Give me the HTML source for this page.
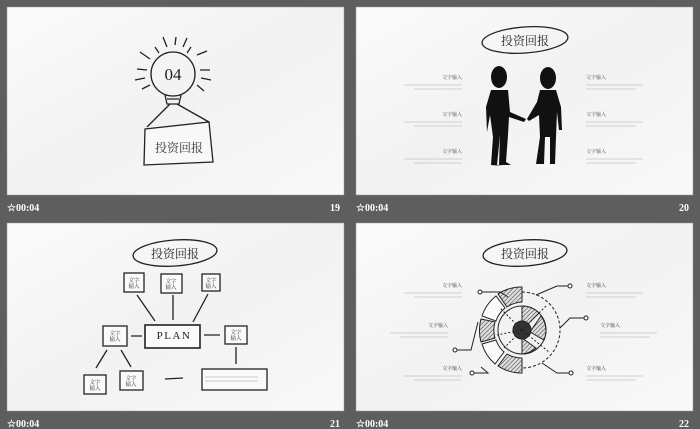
<!DOCTYPE html>
<html><head><meta charset="utf-8"><style>
html,body{margin:0;padding:0;background:#5e5e5e;}
svg{display:block}
text{font-family:"Liberation Serif","Noto Serif CJK SC",serif;}
.w{fill:#fff;font-family:"Liberation Serif",serif;font-weight:bold;font-size:10px}
</style></head><body>
<svg width="700" height="429" viewBox="0 0 700 429" xmlns="http://www.w3.org/2000/svg">
<defs>
<linearGradient id="pg" x1="0" y1="0" x2="1" y2="1">
<stop offset="0" stop-color="#fbfbfb"/><stop offset="0.5" stop-color="#f2f2f2"/><stop offset="1" stop-color="#f9f9f9"/></linearGradient>
<pattern id="h" width="3" height="3" patternUnits="userSpaceOnUse" patternTransform="rotate(45)"><rect width="3" height="3" fill="#ddd"/><line x1="0" y1="0" x2="0" y2="3" stroke="#333" stroke-width="1"/></pattern>
</defs>
<rect width="700" height="429" fill="#5e5e5e"/>
<rect x="7" y="7" width="337" height="188" fill="url(#pg)" stroke="#999" stroke-width="0.5"/>
<rect x="356" y="7" width="337" height="188" fill="url(#pg)" stroke="#999" stroke-width="0.5"/>
<rect x="7" y="223" width="337" height="188" fill="url(#pg)" stroke="#999" stroke-width="0.5"/>
<rect x="356" y="223" width="337" height="188" fill="url(#pg)" stroke="#999" stroke-width="0.5"/>

<text x="7" y="211" class="w">☆00:04</text><text x="340" y="211" class="w" text-anchor="end">19</text>
<text x="356" y="211" class="w">☆00:04</text><text x="689" y="211" class="w" text-anchor="end">20</text>
<text x="7" y="427" class="w">☆00:04</text><text x="340" y="427" class="w" text-anchor="end">21</text>
<text x="356" y="427" class="w">☆00:04</text><text x="689" y="427" class="w" text-anchor="end">22</text>

<g transform="translate(7,7)" stroke="#222" fill="none" stroke-width="1.3">
<circle cx="166" cy="67" r="22"/>
<path d="M158 88 L160 97 L172 97 L174 88 M160 92 L172 92"/>
<path d="M156 30 L160 40 M169 30 L168 38 M180 31 L176 40 M148 40 L152 46 M184 40 L180 46 M133 45 L143 52 M190 48 L200 44 M130 62 L140 63 M193 63 L203 63 M128 73 L138 71 M194 71 L204 73 M135 82 L143 78 M190 78 L197 84"/>
<path d="M163 97 L140 120 M170 97 L202 115"/>
<path d="M138 122 L202 115 L206 155 L137 158 Z" fill="#f8f8f8"/>
</g>
<text x="173" y="80" font-size="17" text-anchor="middle" fill="#222">04</text>
<text x="179" y="152" font-size="12" text-anchor="middle" fill="#333">投资回报</text>

<g transform="translate(356,7)">
<ellipse cx="169" cy="33" rx="43" ry="13" fill="none" stroke="#222" stroke-width="1.3" transform="rotate(-4 169 33)"/>
<text x="169" y="38" font-size="12" text-anchor="middle" fill="#222">投资回报</text>
<g fill="#111">
<ellipse cx="143" cy="70" rx="8" ry="11"/>
<path d="M135 83 L152 83 L154 105 L170 112 L168 115 L153 110 L152 128 L150 155 L155 158 L143 158 L144 128 L141 158 L147 159 L135 158 L137 130 L134 108 L131 125 L130 100 Z"/>
<ellipse cx="192" cy="71" rx="8" ry="11"/>
<path d="M184 83 L200 83 L205 100 L206 123 L203 123 L201 105 L200 130 L199 157 L194 157 L194 130 L189 130 L188 157 L180 157 L184 130 L183 108 L173 114 L171 112 L181 95 Z"/>
</g>
<g fill="#555">
<text x="106" y="72" text-anchor="end" font-size="5">文字输入</text>
<text x="106" y="109" text-anchor="end" font-size="5">文字输入</text>
<text x="106" y="146" text-anchor="end" font-size="5">文字输入</text>
<text x="230" y="72" font-size="5">文字输入</text>
<text x="230" y="109" font-size="5">文字输入</text>
<text x="230" y="146" font-size="5">文字输入</text>
</g>
<g stroke="#c4c4c4" stroke-width="0.8">
<path d="M48 78 H106 M58 82 H106 M48 115 H106 M58 119 H106 M48 152 H106 M58 156 H106 M230 78 H287 M230 82 H280 M230 115 H287 M230 119 H280 M230 152 H287 M230 156 H280"/>
</g>
</g>

<g transform="translate(7,222)" stroke="#222" fill="none" stroke-width="1.3">
<ellipse cx="168" cy="31" rx="42" ry="13" transform="rotate(-4 168 31)"/>
<rect x="117" y="51" width="20" height="19" fill="#fafafa"/>
<rect x="154" y="52" width="21" height="19" fill="#fafafa"/>
<rect x="195" y="52" width="18" height="17" fill="#fafafa"/>
<rect x="138" y="103" width="55" height="23" fill="#fafafa" stroke-width="1.6"/>
<rect x="96" y="104" width="24" height="20" fill="#fafafa"/>
<rect x="218" y="104" width="22" height="18" fill="#fafafa"/>
<rect x="77" y="153" width="22" height="19" fill="#fafafa"/>
<rect x="113" y="149" width="23" height="19" fill="#fafafa"/>
<rect x="195" y="147" width="65" height="21" fill="#fafafa"/>
<path d="M130 73 L148 99 M166 73 L166 98 M201 72 L186 100 M124 114 L135 114 M197 113 L213 113 M229 125 L229 142 M100 128 L89 146 M114 128 L124 145 M158 157 L176 156"/>
</g>
<g fill="#333" font-size="5.5" text-anchor="middle" font-family="Liberation Sans,Noto Sans CJK SC,sans-serif">
<text x="134" y="282">文字</text><text x="134" y="288">输入</text>
<text x="171" y="283">文字</text><text x="171" y="289">输入</text>
<text x="211" y="282">文字</text><text x="211" y="288">输入</text>
<text x="115" y="335">文字</text><text x="115" y="341">输入</text>
<text x="236" y="334">文字</text><text x="236" y="340">输入</text>
<text x="95" y="384">文字</text><text x="95" y="390">输入</text>
<text x="131" y="380">文字</text><text x="131" y="386">输入</text>
</g>
<text x="174" y="339" font-size="11" text-anchor="middle" fill="#222" font-family="Liberation Sans,sans-serif" letter-spacing="1.5">PLAN</text>
<text x="175" y="258" font-size="12" text-anchor="middle" fill="#222">投资回报</text>
<path d="M205 377 H258 M205 381 H258" stroke="#bbb" stroke-width="0.8"/>

<g transform="translate(356,222)">
<ellipse cx="169" cy="31" rx="42" ry="13" fill="none" stroke="#222" stroke-width="1.3" transform="rotate(-4 169 31)"/>
<text x="169" y="36" font-size="12" text-anchor="middle" fill="#222">投资回报</text>
</g>
<g transform="translate(522,330)" stroke="#222" stroke-width="1" fill="#fafafa">
<path d="M0 -43 A43 43 0 0 0 -24 -36 L-15 -23 A28 28 0 0 1 0 -28 Z" fill="url(#h)"/>
<path d="M-26 -34 A43 43 0 0 0 -40 -14 L-26 -9 A28 28 0 0 1 -17 -22 Z"/>
<path d="M-41 -11 A43 43 0 0 0 -41 12 L-27 8 A28 28 0 0 1 -27 -8 Z" fill="url(#h)"/>
<path d="M-40 14 A43 43 0 0 0 -27 34 L-18 22 A28 28 0 0 1 -26 10 Z"/>
<path d="M-24 36 A43 43 0 0 0 0 43 L0 28 A28 28 0 0 1 -15 24 Z" fill="url(#h)"/>
<circle r="24" fill="none"/>
<path d="M0 -24 A24 24 0 0 1 17 -17 L6 -6 A8 8 0 0 0 0 -8 Z" fill="url(#h)"/>
<path d="M19 -14 A24 24 0 0 1 22 10 L8 2 Z" fill="url(#h)"/>
<path d="M14 18 A24 24 0 0 1 0 24 L0 8 Z" fill="url(#h)"/>
<circle r="9" fill="#333"/>
<path d="M0 -38 A38 38 0 0 1 0 38" fill="none" stroke-dasharray="3 2"/>
<path d="M0 0 L-22 -22 M0 0 L-25 5 M0 0 L-18 18 M0 0 L25 -25 M0 0 L27 22" stroke-dasharray="2 2" fill="none"/>
<path d="M-40 -38 L-22 -38 L-14 -33 M14 -35 L35 -44 L47 -44 M38 -2 L48 -12 L63 -12 M-44 -8 L-51 20 L-66 20 M-41 37 L-34 43 L-49 43 M20 33 L35 43 L48 43" fill="none"/>
<g fill="#fff"><circle cx="-42" cy="-38" r="2"/><circle cx="48" cy="-44" r="2"/><circle cx="64" cy="-12" r="2"/><circle cx="-67" cy="20" r="2"/><circle cx="-50" cy="43" r="2"/><circle cx="49" cy="43" r="2"/></g>
</g>
<g transform="translate(356,222)">
<g fill="#444" font-size="5">
<text x="106" y="65" text-anchor="end">文字输入</text>
<text x="92" y="105" text-anchor="end">文字输入</text>
<text x="106" y="148" text-anchor="end">文字输入</text>
<text x="230" y="65">文字输入</text>
<text x="244" y="105">文字输入</text>
<text x="230" y="148">文字输入</text>
</g>
<g stroke="#c4c4c4" stroke-width="0.8">
<path d="M48 71 H106 M58 75 H106 M34 111 H92 M44 115 H92 M48 154 H106 M58 158 H106 M230 71 H287 M230 75 H280 M244 111 H301 M244 115 H294 M230 154 H287 M230 158 H280"/>
</g>
</g>
</svg>
</body></html>
